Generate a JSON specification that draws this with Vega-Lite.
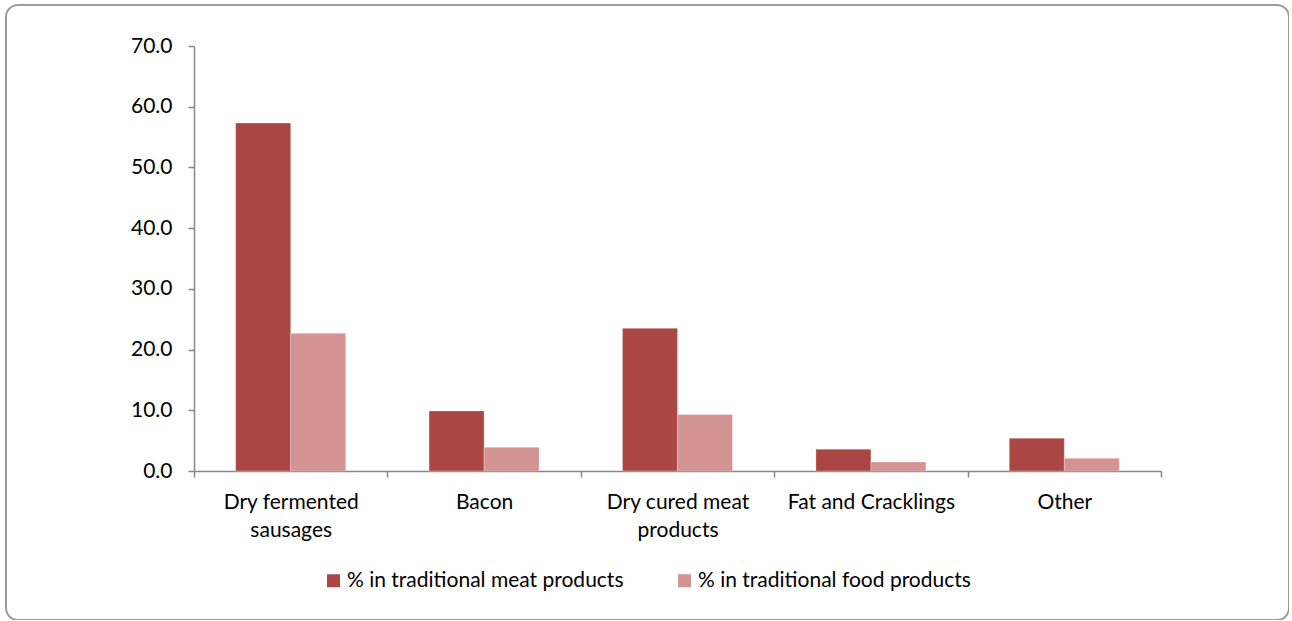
{
  "$schema": "https://vega.github.io/schema/vega-lite/v6.json",
  "width": 1283,
  "height": 615,
  "autosize": {"type": "none"},
  "padding": {"left": 6, "top": 5, "right": 0, "bottom": 0},
  "background": "white",
  "config": {
    "font": "Lato",
    "view": {"stroke": "#9c9c9c", "strokeWidth": 2, "cornerRadius": 12},
    "axis": {
      "domainColor": "#878787",
      "domainWidth": 1.5,
      "tickColor": "#878787",
      "tickWidth": 1.5,
      "tickSize": 6,
      "labelColor": "#000000",
      "labelFont": "Lato",
      "labelFontSize": 21,
      "grid": false,
      "title": null
    },
    "legend": {
      "labelFont": "Lato",
      "labelFontSize": 21,
      "labelColor": "#000000",
      "labelLimit": 500
    }
  },
  "data": {
    "values": [
      {"category": "Dry fermented sausages", "series": "% in traditional meat products", "value": 57.3},
      {"category": "Dry fermented sausages", "series": "% in traditional food products", "value": 22.7},
      {"category": "Bacon", "series": "% in traditional meat products", "value": 9.9},
      {"category": "Bacon", "series": "% in traditional food products", "value": 3.9},
      {"category": "Dry cured meat products", "series": "% in traditional meat products", "value": 23.5},
      {"category": "Dry cured meat products", "series": "% in traditional food products", "value": 9.3},
      {"category": "Fat and Cracklings", "series": "% in traditional meat products", "value": 3.6},
      {"category": "Fat and Cracklings", "series": "% in traditional food products", "value": 1.5},
      {"category": "Other", "series": "% in traditional meat products", "value": 5.4},
      {"category": "Other", "series": "% in traditional food products", "value": 2.1}
    ]
  },
  "mark": {"type": "bar", "stroke": "#ffffff", "strokeOpacity": 0.35, "strokeWidth": 0.8},
  "encoding": {
    "x": {
      "field": "category",
      "type": "nominal",
      "sort": ["Dry fermented sausages", "Bacon", "Dry cured meat products", "Fat and Cracklings", "Other"],
      "scale": {"range": [188, 1155], "paddingInner": 0, "paddingOuter": 0},
      "axis": {
        "orient": "bottom",
        "offset": -149,
        "labelAngle": 0,
        "tickBand": "extent",
        "labelPadding": 14,
        "labelLineHeight": 28,
        "labelBaseline": "top",
        "labelExpr": "datum.label == 'Dry fermented sausages' ? ['Dry fermented', 'sausages'] : datum.label == 'Dry cured meat products' ? ['Dry cured meat', 'products'] : datum.label"
      }
    },
    "xOffset": {
      "field": "series",
      "type": "nominal",
      "sort": ["% in traditional meat products", "% in traditional food products"],
      "scale": {"paddingInner": 0, "paddingOuter": 0.758}
    },
    "y": {
      "field": "value",
      "type": "quantitative",
      "scale": {"domain": [0, 70], "range": [466, 41], "nice": false},
      "axis": {
        "orient": "left",
        "offset": -188,
        "values": [0, 10, 20, 30, 40, 50, 60, 70],
        "format": ".1f",
        "labelPadding": 16
      }
    },
    "color": {
      "field": "series",
      "type": "nominal",
      "scale": {
        "domain": ["% in traditional meat products", "% in traditional food products"],
        "range": ["#AA4643", "#D39392"]
      },
      "legend": {
        "title": null,
        "orient": "none",
        "direction": "horizontal",
        "legendX": 317,
        "legendY": 565,
        "symbolType": "square",
        "symbolSize": 169,
        "symbolStrokeWidth": 0,
        "labelOffset": 3,
        "columnPadding": 50
      }
    }
  }
}
